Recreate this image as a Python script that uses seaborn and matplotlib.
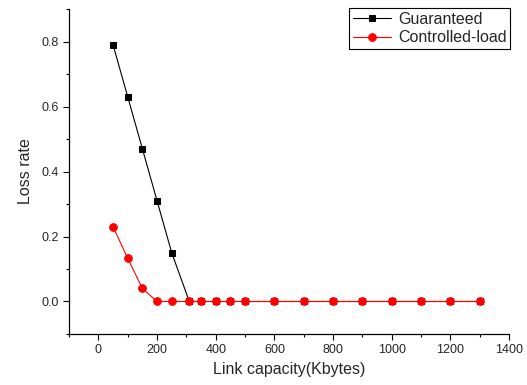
import pandas as pd
import matplotlib
matplotlib.use("Agg")
import matplotlib.pyplot as plt
import seaborn as sns
from matplotlib.ticker import MultipleLocator

# Data
capacity = [50, 100, 150, 200, 250, 310, 350, 400, 450, 500,
            600, 700, 800, 900, 1000, 1100, 1200, 1300]
guaranteed = [0.79, 0.63, 0.47, 0.31, 0.15, 0, 0, 0, 0, 0,
              0, 0, 0, 0, 0, 0, 0, 0]
controlled = [0.23, 0.133, 0.04, 0, 0, 0, 0, 0, 0, 0,
              0, 0, 0, 0, 0, 0, 0, 0]

sns.set_style("ticks")
plt.rcParams["font.family"] = ["Liberation Sans", "DejaVu Sans"]

df = pd.DataFrame({"capacity": capacity, "Guaranteed": guaranteed,
                   "Controlled-load": controlled})

fig = plt.figure(figsize=(5.27, 3.85), dpi=100)
ax = fig.add_axes([0.131, 0.1325, 0.835, 0.844])

sns.lineplot(data=df, x="capacity", y="Guaranteed", ax=ax, color="black",
             marker="s", markersize=5, markeredgecolor="black",
             linewidth=0.8, label="Guaranteed")
sns.lineplot(data=df, x="capacity", y="Controlled-load", ax=ax, color="red",
             marker="o", markersize=5.5, markeredgecolor="red",
             linewidth=0.8, label="Controlled-load")

ax.set_xlim(-100, 1400)
ax.set_ylim(-0.1, 0.9)
ax.xaxis.set_major_locator(MultipleLocator(200))
ax.xaxis.set_minor_locator(MultipleLocator(100))
ax.yaxis.set_minor_locator(MultipleLocator(0.1))
ax.set_yticks([0.0, 0.2, 0.4, 0.6, 0.8])
ax.set_yticklabels(["0.0", "0.2", "0.4", "0.6", "0.8"])

ax.tick_params(which="major", length=4, width=0.8, labelsize=9, color="black")
ax.tick_params(which="minor", length=2.5, width=0.8, color="black")
for side in ["left", "bottom"]:
    ax.spines[side].set_color("black")
    ax.spines[side].set_linewidth(0.9)
sns.despine(ax=ax)

ax.set_xlabel("Link capacity(Kbytes)", fontsize=11.5, labelpad=4)
ax.set_ylabel("Loss rate", fontsize=11.5, labelpad=6)

leg = ax.legend(loc="upper right", bbox_to_anchor=(1.003, 1.003),
                borderaxespad=0, fontsize=11.5, fancybox=False, framealpha=1,
                edgecolor="black", handlelength=2.4, labelspacing=0.2,
                handletextpad=0.4, borderpad=0.25)
leg.get_frame().set_linewidth(0.8)

fig.savefig("out.png", dpi=100)
